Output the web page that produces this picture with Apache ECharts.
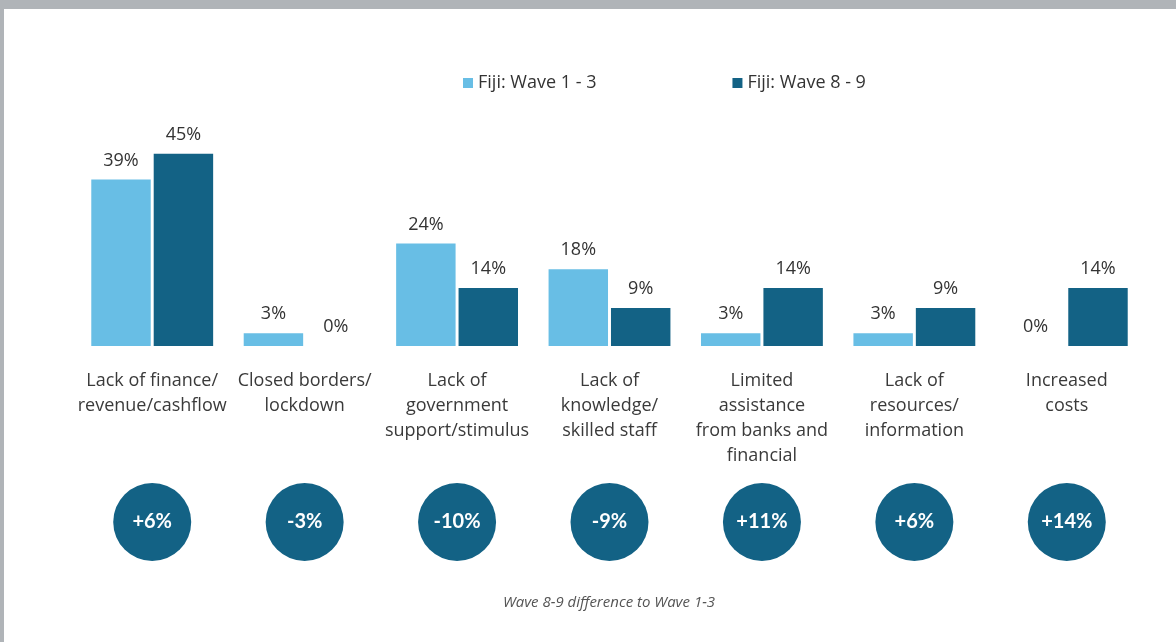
<!DOCTYPE html>
<html>
<head>
<meta charset="utf-8">
<script src="https://cdn.jsdelivr.net/npm/echarts@6/dist/echarts.min.js"></script>
<style>
  html, body { margin: 0; padding: 0; background: #b0b4b8; }
  #main { position: absolute; left: 4px; top: 9px; width: 1172px; height: 633px; background: #ffffff; }
</style>
</head>
<body>
<div id="main"></div>
<script>
var categories = [
  'Lack of finance/\nrevenue/cashflow',
  'Closed borders/\nlockdown',
  'Lack of\ngovernment\nsupport/stimulus',
  'Lack of\nknowledge/\nskilled staff',
  'Limited\nassistance\nfrom banks and\nfinancial',
  'Lack of\nresources/\ninformation',
  'Increased\ncosts'
];
var wave13 = [39, 3, 24, 18, 3, 3, 0];
var wave89 = [45, 0, 13.6, 8.9, 13.6, 8.9, 13.6];
var diffLabels = ['+6%', '-3%', '-10%', '-9%', '+11%', '+6%', '+14%'];

var chart = echarts.init(document.getElementById('main'));
var font = 'Open Sans';

chart.setOption({
  animation: false,
  title: {
    text: 'Wave 8-9 difference to Wave 1-3',
    left: 600,
    top: 581,
    textAlign: 'center',
    textStyle: { fontSize: 15, fontStyle: 'italic', fontWeight: 'normal', color: '#555', fontFamily: font }
  },
  legend: {
    left: 454,
    top: 60,
    itemWidth: 10,
    itemHeight: 10,
    itemGap: 136,
    icon: 'rect',
    textStyle: { fontSize: 18, color: '#333', fontFamily: font },
    data: ['Fiji: Wave 1 - 3', 'Fiji: Wave 8 - 9']
  },
  grid: [
    { left: 72, right: 33, top: 123.5, bottom: 296 },
    { left: 72, right: 33, top: 474, height: 78 }
  ],
  xAxis: [
    {
      type: 'category', gridIndex: 0, data: categories,
      axisLine: { show: false }, axisTick: { show: false },
      axisLabel: { interval: 0, margin: 22, fontSize: 18, lineHeight: 25, color: '#3a3a3a', fontFamily: font }
    },
    {
      type: 'category', gridIndex: 1, data: categories,
      axisLine: { show: false }, axisTick: { show: false }, axisLabel: { show: false }
    }
  ],
  yAxis: [
    { type: 'value', gridIndex: 0, min: 0, max: 50, show: false, splitLine: { show: false } },
    { type: 'value', gridIndex: 1, min: -1, max: 1, show: false, splitLine: { show: false } }
  ],
  series: [
    {
      name: 'Fiji: Wave 1 - 3', type: 'bar', data: wave13,
      barWidth: '39%', barGap: '5%',
      itemStyle: { color: '#68bee5' },
      label: {
        show: true, position: 'top', distance: 10, fontSize: 18, color: '#333', fontFamily: font,
        formatter: function (p) { return Math.round(p.value) + '%'; }
      }
    },
    {
      name: 'Fiji: Wave 8 - 9', type: 'bar', data: wave89,
      barWidth: '39%',
      itemStyle: { color: '#136285' },
      label: {
        show: true, position: 'top', distance: 10, fontSize: 18, color: '#333', fontFamily: font,
        formatter: function (p) { return Math.round(p.value) + '%'; }
      }
    },
    {
      type: 'scatter', xAxisIndex: 1, yAxisIndex: 1,
      symbolSize: 78,
      data: diffLabels.map(function () { return 0; }),
      itemStyle: { color: '#136285', opacity: 1 },
      label: {
        show: true, position: 'inside', fontSize: 20, fontWeight: 'bold', color: '#ffffff', fontFamily: 'Lato',
        formatter: function (p) { return diffLabels[p.dataIndex]; }
      }
    }
  ]
});
</script>
</body>
</html>
